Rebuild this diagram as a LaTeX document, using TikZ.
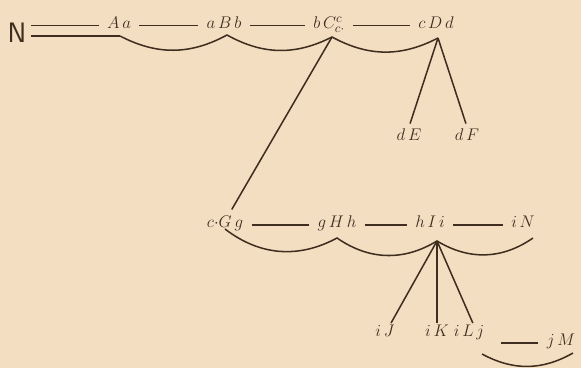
\documentclass[tikz,border=0pt]{standalone}
\usepackage{tikz}
\usetikzlibrary{positioning, calc}
\definecolor{cPAPER}{HTML}{F4DEC2}
\definecolor{cINK}{HTML}{3F2D20}
\tikzset{
  term/.style={
    text=cINK,
    font=\fontsize{15}{15}\selectfont,
    text height=10.5pt,
    text depth=6pt,
    inner xsep=7pt,
    inner ysep=0.5pt
  },
  root/.style={
    text=cINK,
    font=\sffamily\fontsize{24}{24}\selectfont,
    inner xsep=4pt
  },
  link/.style={
    draw=cINK,
    line width=1.3pt
  },
  arcline/.style={
    link,
    bend right=#1
  },
  leg/.style={
    link,
    shorten >=#1
  }
}

\begin{document}
\begin{tikzpicture}[x=0.03cm, y=0.03cm]
  \fill[cPAPER] (0,0) rectangle (581,368);
  \useasboundingbox (0,0) rectangle (581,368);

  \node[root] (N) at (17,335) {N};
  \node[term] (Aa) at (119,342.5) {$A\,a$};
  \node[term] (aBb) at (224,342.5) {$a\,B\,b$};
  \node[term] (bCc) at (329,342.5) {$b\,C^{c}_{c\cdot}$};
  \node[term] (cDd) at (436,342.5) {$c\,D\,d$};
  \node[term] (dE) at (409,230.6) {$d\,E$};
  \node[term] (dF) at (467,230.6) {$d\,F$};

  \node[term] (cGg) at (225,143) {$c{\cdot}G\,g$};
  \node[term] (gHh) at (337,143) {$g\,H\,h$};
  \node[term] (hIi) at (430,143) {$h\,I\,i$};
  \node[term] (iN) at (523,143) {$i\,N$};

  \node[term] (iJ) at (385,34.5) {$i\,J$};
  \node[term] (iK) at (437,34.5) {$i\,K$};
  \node[term] (iLj) at (469,34.5) {$i\,L\,j$};
  \node[term] (jM) at (561,25) {$j\,M$};

  \coordinate (s0) at (120,332);
  \coordinate (pB) at (227,333);
  \coordinate (pC) at (332,331);
  \coordinate (pD) at (438,330);
  \coordinate (s1) at (225,139);
  \coordinate (pH) at (337,130);
  \coordinate (pI) at (437,127);
  \coordinate (s2) at (533,130);
  \coordinate (s3) at (482,14);
  \coordinate (s4) at (573,15);

  \draw[link] (N.east |- Aa) -- (Aa.west);
  \draw[link] (N.east |- s0) -- (s0);
  \draw[link] (Aa.east) -- (aBb.west);
  \draw[link] (aBb.east) -- (bCc.west);
  \draw[link] (bCc.east) -- (cDd.west);
  \draw[link] (cGg.east) -- (gHh.west);
  \draw[link] (gHh.east) -- (hIi.west);
  \draw[link] (hIi.east) -- (iN.west);
  \draw[link] ($(iLj.east |- jM.west)+(8,0)$) -- (jM.west);

  \draw[arcline=28] (s0) to (pB) to (pC) to (pD);
  \draw[arcline=33] (s1) to (pH) to (pI) to (s2);
  \draw[arcline=29] (s3) to (s4);

  \draw[leg=5pt] (pC) -- (cGg.70);
  \draw[leg=3pt] (pD) -- (dE.north);
  \draw[leg=3pt] (pD) -- (dF.north);
  \draw[leg=0pt] (pI) -- (iJ.60);
  \draw[leg=0pt] (pI) -- (iK.north);
  \draw[leg=0pt] (pI) -- (iLj.70);
\end{tikzpicture}
\end{document}
